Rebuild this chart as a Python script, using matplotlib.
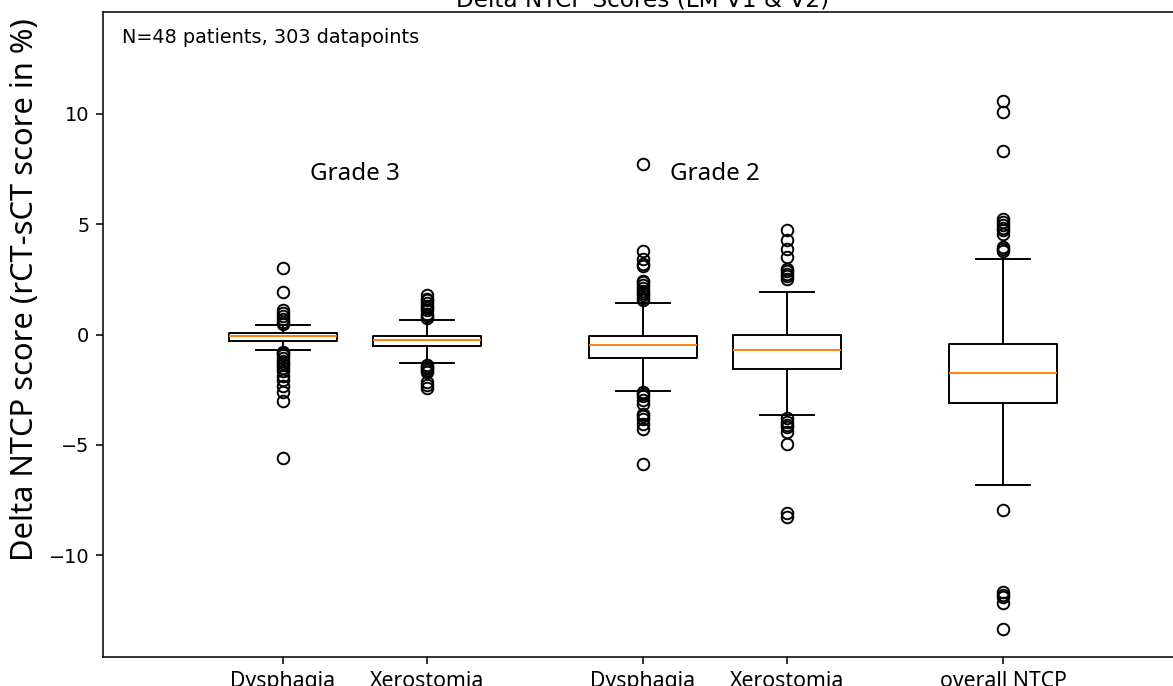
import matplotlib
matplotlib.use("Agg")
import matplotlib.pyplot as plt

# categories and positions
labels = ['Dysphagia', 'Xerostomia', 'Dysphagia', 'Xerostomia', 'overall NTCP']
positions = [1, 2, 3.5, 4.5, 6]

# box statistics (delta NTCP in %)
medians = [-0.09, -0.27, -0.47, -0.72, -1.76]
q1s = [-0.30, -0.54, -1.06, -1.57, -3.09]
q3s = [0.06, -0.05, -0.09, -0.01, -0.44]
whis_lo = [-0.72, -1.30, -2.54, -3.64, -6.81]
whis_hi = [0.41, 0.66, 1.42, 1.92, 3.42]

fliers_g3_dys = [3.02, 1.92, 1.09, 0.96, 0.85, 0.71, 0.56, 0.47,
                 -0.80, -0.86, -0.95, -1.08, -1.18, -1.30, -1.40, -1.52,
                 -1.63, -1.86, -2.08, -2.31, -2.61, -2.99, -5.58]
fliers_g3_xer = [1.77, 1.62, 1.54, 1.42, 1.31, 1.20, 1.09, 0.95, 0.86, 0.76,
                 -1.36, -1.45, -1.52, -1.62, -1.72, -2.16, -2.30, -2.41]
fliers_g2_dys = [7.70, 3.80, 3.43, 3.20, 3.12, 2.44, 2.36, 2.26, 2.10, 1.99,
                 1.88, 1.77, 1.65, 1.54,
                 -2.60, -2.70, -2.80, -2.95, -3.14, -3.59, -3.70, -3.82,
                 -4.04, -4.27, -5.88]
fliers_g2_xer = [4.74, 4.29, 3.88, 3.53, 2.97, 2.86, 2.75, 2.63, 2.52,
                 -3.80, -3.97, -4.08, -4.20, -4.42, -4.95, -8.06, -8.28]
fliers_all = [10.57, 10.07, 8.31, 5.21, 5.08, 4.96, 4.83, 4.71, 4.54,
              3.95, 3.86, 3.78,
              -7.95, -11.64, -11.78, -11.89, -12.14, -13.31]
fliers = [fliers_g3_dys, fliers_g3_xer, fliers_g2_dys, fliers_g2_xer, fliers_all]

stats = []
for i in range(len(labels)):
    stats.append({'med': medians[i], 'q1': q1s[i], 'q3': q3s[i],
                  'whislo': whis_lo[i], 'whishi': whis_hi[i],
                  'fliers': fliers[i], 'label': labels[i]})

dpi = 139
fig = plt.figure(figsize=(1173 / dpi, 686 / dpi), dpi=dpi)
# the reference is a crop: the axes is cut at the right edge, no right spine
ax_w = 1173 - 103
ax = fig.add_axes([103 / 1173, 29 / 686, ax_w / 1173, 645 / 686])
ax.spines['right'].set_visible(False)

ax.bxp(stats, positions=positions, widths=0.75)
ax.set_xlim(-0.25, -0.25 + ax_w / 144)
ax.set_ylim(-14.6, 14.6)
ax.set_xticks(positions)
ax.set_xticklabels(labels, fontsize=11, family='Noto Sans')

ax.set_title('Delta NTCP Scores (LM V1 & V2)', fontsize=12, pad=0,
             x=(643 - 103) / ax_w)
ax.set_ylabel('Delta NTCP score (rCT-sCT score in %)', fontsize=16, family='Noto Sans')
ax.yaxis.set_label_coords(-0.058 * 1080 / ax_w, 0.569)

ax.text(19 / ax_w, 0.975, 'N=48 patients, 303 datapoints', transform=ax.transAxes,
        fontsize=10, va='top', ha='left')
ax.text(1.5, 7, 'Grade 3', ha='center', fontsize=12.5, family='Noto Sans')
ax.text(4.0, 7, 'Grade 2', ha='center', fontsize=12.5, family='Noto Sans')

fig.savefig('out.png', dpi=dpi)
